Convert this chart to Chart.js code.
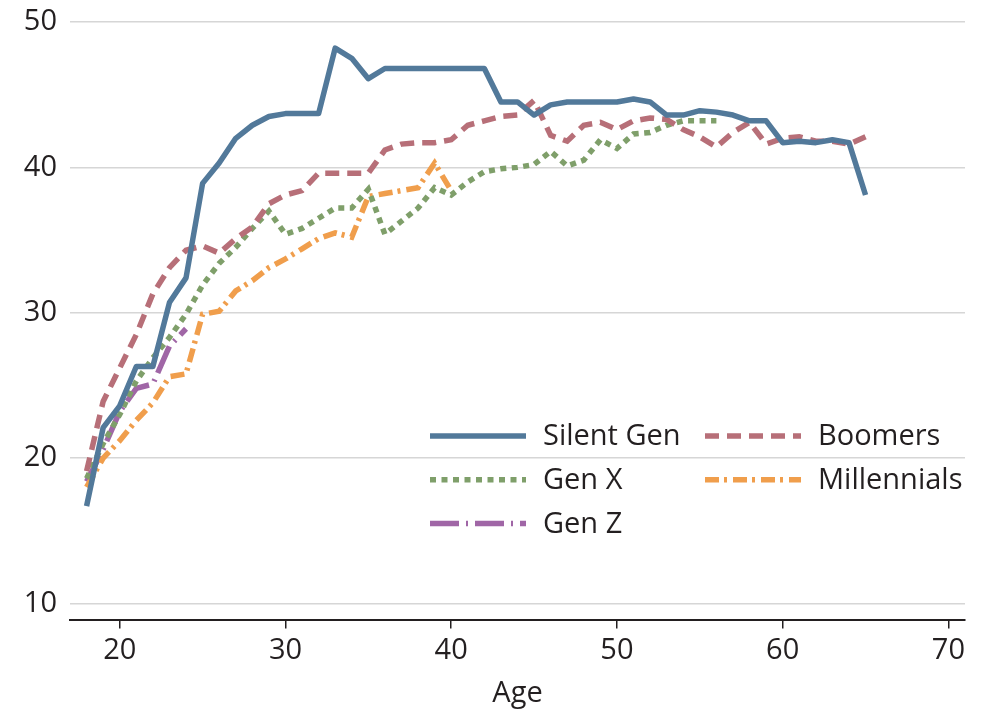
<!DOCTYPE html>
<html>
<head>
<meta charset="utf-8">
<script src="https://cdn.jsdelivr.net/npm/chart.js@4.4.1/dist/chart.umd.min.js"></script>
<style>
  html, body { margin: 0; padding: 0; background: #fff; }
  #c { display: block; }
</style>
</head>
<body>
<canvas id="c" width="992" height="711"></canvas>
<script>
// age axis shared by all generations (each series starts at 18)
const ages = [18, 19, 20, 21, 22, 23, 24, 25, 26, 27, 28, 29, 30, 31, 32, 33,
  34, 35, 36, 37, 38, 39, 40, 41, 42, 43, 44, 45, 46, 47, 48, 49, 50, 51, 52,
  53, 54, 55, 56, 57, 58, 59, 60, 61, 62, 63, 64, 65];

const silentGen = [16.7, 22.1, 23.6, 26.3, 26.3, 30.7, 32.4, 38.9, 40.3, 42.0,
  42.9, 43.5, 43.7, 43.7, 43.7, 48.2, 47.5, 46.1, 46.8, 46.8, 46.8, 46.8, 46.8,
  46.8, 46.8, 44.5, 44.5, 43.6, 44.3, 44.5, 44.5, 44.5, 44.5, 44.7, 44.5, 43.6,
  43.6, 43.9, 43.8, 43.6, 43.2, 43.2, 41.7, 41.8, 41.7, 41.9, 41.7, 38.1];

const boomers = [19.1, 23.9, 26.2, 28.5, 31.3, 33.1, 34.3, 34.6, 34.1, 35.1,
  35.9, 37.5, 38.1, 38.4, 39.6, 39.6, 39.6, 39.6, 41.2, 41.6, 41.7, 41.7, 41.9,
  42.9, 43.2, 43.5, 43.6, 44.6, 42.2, 41.8, 42.9, 43.1, 42.6, 43.2, 43.4, 43.3,
  42.6, 42.1, 41.4, 42.4, 43.1, 41.6, 42.0, 42.1, 41.8, 41.8, 41.6, 42.1];

const genX = [18.6, 21.0, 23.0, 25.3, 26.9, 28.3, 29.9, 31.9, 33.4, 34.5,
  35.8, 37.0, 35.4, 35.8, 36.5, 37.2, 37.2, 38.5, 35.4, 36.3, 37.2, 38.6, 38.1,
  39.0, 39.7, 39.9, 40.0, 40.2, 41.1, 40.1, 40.5, 41.9, 41.3, 42.3, 42.4, 42.9,
  43.2, 43.2, 43.2];

const millennials = [18.0, 20.0, 21.2, 22.6, 23.8, 25.6, 25.8, 29.9, 30.1,
  31.5, 32.2, 33.1, 33.7, 34.4, 35.1, 35.5, 35.2, 38.0, 38.2, 38.4, 38.6, 40.3,
  38.4];

const genZ = [18.4, 20.6, 23.2, 24.8, 25.1, 27.7, 28.9];

const xTicks = [20, 30, 40, 50, 60, 70];
const yTicks = [10, 20, 30, 40, 50];

const textColor = '#231f20';
const font = '"Open Sans", "Noto Sans", sans-serif';

function pts(values) {
  return values.map((v, i) => ({ x: ages[i], y: v }));
}

// two-column legend drawn inside the plot, lower right
const gridLegend = {
  id: 'gridLegend',
  afterDraw(chart) {
    const ctx = chart.ctx;
    const x0 = 430, colW = 275, y0 = 436, rowH = 43.8;
    chart.data.datasets.forEach((ds, i) => {
      const x = x0 + (i % 2) * colW;
      const y = y0 + Math.floor(i / 2) * rowH;
      ctx.save();
      ctx.strokeStyle = ds.borderColor;
      ctx.lineWidth = ds.borderWidth;
      ctx.lineCap = 'butt';
      ctx.setLineDash(ds.borderDash || []);
      ctx.beginPath();
      ctx.moveTo(x, y);
      ctx.lineTo(x + 96, y);
      ctx.stroke();
      ctx.setLineDash([]);
      ctx.fillStyle = textColor;
      ctx.font = '29px ' + font;
      ctx.textBaseline = 'middle';
      ctx.fillText(ds.label, x + 113, y + 1);
      ctx.restore();
    });
  }
};

new Chart(document.getElementById('c'), {
  type: 'line',
  data: {
    datasets: [
      { label: 'Silent Gen', data: pts(silentGen), borderColor: '#52799a',
        borderWidth: 5.5, borderJoinStyle: 'round' },
      { label: 'Boomers', data: pts(boomers), borderColor: '#b76f78',
        borderWidth: 5.5, borderDash: [14, 8] },
      { label: 'Gen X', data: pts(genX), borderColor: '#7f9f6a',
        borderWidth: 5.5, borderDash: [6, 5.5] },
      { label: 'Millennials', data: pts(millennials), borderColor: '#f09e4c',
        borderWidth: 5.5, borderDash: [14, 5, 3, 6] },
      { label: 'Gen Z', data: pts(genZ), borderColor: '#a066a6',
        borderWidth: 5.5, borderDash: [29, 7, 2, 7] }
    ]
  },
  options: {
    responsive: false,
    animation: false,
    devicePixelRatio: 1,
    parsing: false,
    elements: { point: { radius: 0 }, line: { tension: 0, borderCapStyle: 'butt' } },
    layout: { padding: { left: 0, right: 27, top: 22, bottom: 0 } },
    plugins: { legend: { display: false }, tooltip: { enabled: false } },
    scales: {
      x: {
        type: 'linear',
        min: 17,
        max: 71,
        afterBuildTicks: axis => { axis.ticks = xTicks.map(v => ({ value: v })); },
        afterFit: axis => { axis.height = 711 - 619.5; },
        border: { display: true, color: '#231f20', width: 2 },
        grid: { display: true, drawOnChartArea: false, drawTicks: true,
          tickLength: 9, color: '#231f20', lineWidth: 1.5 },
        ticks: { color: textColor, font: { family: font, size: 29 }, padding: 5,
          maxRotation: 0 },
        title: { display: true, text: 'Age', color: textColor,
          font: { family: font, size: 29 }, padding: { top: 0, bottom: 0 } }
      },
      y: {
        type: 'linear',
        min: 8.9,
        max: 50,
        afterBuildTicks: axis => { axis.ticks = yTicks.map(v => ({ value: v })); },
        afterFit: axis => {
          axis.width = 70;
          axis.paddingTop = 0;
          axis.paddingBottom = 0;
        },
        border: { display: false },
        grid: { color: '#d6d6d6', lineWidth: 1.5, drawTicks: false },
        ticks: { color: textColor, font: { family: font, size: 29 }, padding: 13 }
      }
    }
  },
  plugins: [gridLegend]
});
</script>
</body>
</html>
